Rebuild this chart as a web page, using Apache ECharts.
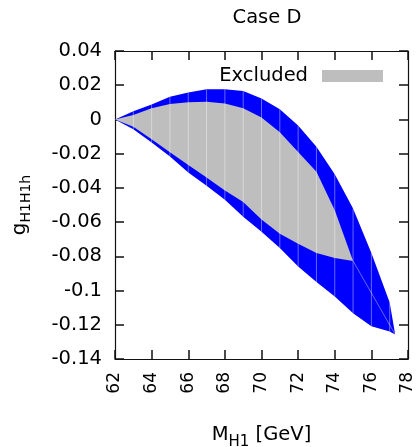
<!DOCTYPE html>
<html>
<head>
<meta charset="utf-8">
<title>Case D</title>
<script src="https://cdn.jsdelivr.net/npm/echarts@6/dist/echarts.min.js"></script>
<style>
html, body { margin:0; height:100%; background:#fff; }
</style>
</head>
<body>
<div id="main" style="width:418px;height:447px;"></div>
<script>
// allowed region (blue) : upper / lower edge per M_H1
var blueX     = [62, 63, 64, 65, 66, 67, 68, 69, 70, 71, 72, 73, 74, 75, 76, 77, 77.3];
var blueUpper = [0, 0.0048, 0.0088, 0.0132, 0.0158, 0.0176, 0.0177, 0.0166, 0.0122, 0.006, -0.0035, -0.016, -0.032, -0.052, -0.078, -0.107, -0.1257];
var blueLower = [0, -0.0057, -0.0135, -0.0217, -0.031, -0.0388, -0.047, -0.0568, -0.0656, -0.0752, -0.086, -0.095, -0.1035, -0.1133, -0.1208, -0.124, -0.1257];

// excluded region (gray)
var grayX     = [62, 63, 64, 65, 66, 67, 68, 69, 70, 71, 72, 73, 74, 75];
var grayUpper = [0, 0.0026, 0.0065, 0.009, 0.0101, 0.0103, 0.0093, 0.0065, 0.0012, -0.0075, -0.019, -0.0305, -0.053, -0.0827];
var grayLower = [0, -0.0042, -0.0116, -0.0192, -0.0266, -0.034, -0.0415, -0.0483, -0.0585, -0.0668, -0.0727, -0.078, -0.081, -0.0827];

var FONT = 'DejaVu Sans';

var myChart = echarts.init(document.getElementById('main'));

function polygonRender(xs, upper, lower, color) {
    return function (params, api) {
        var pts = [];
        for (var i = 0; i < xs.length; i++) pts.push(api.coord([xs[i], upper[i]]));
        for (var j = xs.length - 1; j >= 0; j--) pts.push(api.coord([xs[j], lower[j]]));
        return { type: 'polygon', shape: { points: pts }, style: { fill: color } };
    };
}

// faint column seams, one per sampled mass
var seams = blueX.map(function (x, i) { return [x, blueUpper[i], blueLower[i]]; });
var diag = [[grayX[grayX.length - 1], grayLower[grayLower.length - 1]],
            [blueX[blueX.length - 1], blueLower[blueLower.length - 1]]];

var tickStyle = { show: true, inside: true, length: 9, lineStyle: { color: '#111', width: 1.5 } };
var lineStyle = { show: true, onZero: false, lineStyle: { color: '#111', width: 1.2 } };

var option = {
    animation: false,
    title: {
        text: 'Case D',
        left: 262, top: 3, textAlign: 'center',
        textStyle: { fontFamily: FONT, fontSize: 19.5, fontWeight: 'normal', color: '#000' }
    },
    legend: {
        data: ['Excluded'],
        right: 30, top: 61,
        align: 'right',
        icon: 'rect',
        itemWidth: 61, itemHeight: 12,
        selectedMode: false,
        textStyle: { fontFamily: FONT, fontSize: 19.5, color: '#000', padding: [0, 9, 0, 0] }
    },
    grid: {
        left: 115, right: 10, top: 51, bottom: 88,
        containLabel: false, outerBoundsMode: 'none'
    },
    xAxis: [{
        type: 'value', min: 62, max: 78, interval: 2,
        position: 'bottom',
        axisLine: lineStyle, axisTick: tickStyle, splitLine: { show: false },
        axisLabel: { rotate: 90, margin: 13, fontFamily: FONT, fontSize: 17, color: '#000' },
        name: '{m|M}{s|H1}{m| [GeV]}',
        nameLocation: 'middle', nameGap: 66,
        nameTextStyle: {
            fontFamily: FONT, color: '#000',
            rich: {
                m: { fontFamily: FONT, fontSize: 19.5, lineHeight: 20, verticalAlign: 'top', color: '#000' },
                s: { fontFamily: FONT, fontSize: 15, lineHeight: 15, verticalAlign: 'top', padding: [10, 0, 0, 0], color: '#000' }
            }
        }
    }, {
        type: 'value', min: 62, max: 78, interval: 2,
        position: 'top',
        axisLine: lineStyle, axisTick: tickStyle, splitLine: { show: false },
        axisLabel: { show: false }
    }],
    yAxis: [{
        type: 'value', min: -0.14, max: 0.04, interval: 0.02,
        position: 'left',
        axisLine: lineStyle, axisTick: tickStyle, splitLine: { show: false },
        axisLabel: {
            margin: 13, fontFamily: FONT, fontSize: 19.5, color: '#000',
            formatter: function (v) { return String(Number(v.toFixed(2))); }
        },
        name: '{m|g}{s|H1H1h}',
        nameLocation: 'middle', nameGap: 85, nameRotate: 90,
        nameTextStyle: {
            fontFamily: FONT, color: '#000',
            rich: {
                m: { fontFamily: FONT, fontSize: 20, lineHeight: 20, verticalAlign: 'top', color: '#000' },
                s: { fontFamily: FONT, fontSize: 14, lineHeight: 14, verticalAlign: 'top', padding: [9, 0, 0, 0], color: '#000' }
            }
        }
    }, {
        type: 'value', min: -0.14, max: 0.04, interval: 0.02,
        position: 'right',
        axisLine: lineStyle, axisTick: tickStyle, splitLine: { show: false },
        axisLabel: { show: false }
    }],
    series: [{
        name: 'Allowed',
        type: 'custom',
        clip: true,
        renderItem: polygonRender(blueX, blueUpper, blueLower, '#0000ff'),
        data: [[blueX[0], blueUpper[0]]],
        itemStyle: { color: '#0000ff' },
        z: 1
    }, {
        name: 'Excluded',
        type: 'custom',
        clip: true,
        renderItem: polygonRender(grayX, grayUpper, grayLower, '#bebebe'),
        data: [[grayX[0], grayUpper[0]]],
        itemStyle: { color: '#bebebe' },
        z: 2
    }, {
        type: 'custom',
        clip: true,
        renderItem: function (params, api) {
            var p1 = api.coord([api.value(0), api.value(1)]);
            var p2 = api.coord([api.value(0), api.value(2)]);
            return {
                type: 'line',
                shape: { x1: p1[0], y1: p1[1], x2: p2[0], y2: p2[1] },
                style: { stroke: 'rgba(255,255,255,0.4)', lineWidth: 1 }
            };
        },
        data: seams,
        z: 3
    }, {
        type: 'line',
        data: diag,
        symbol: 'none',
        lineStyle: { color: 'rgba(255,255,255,0.4)', width: 1 },
        z: 3
    }]
};

myChart.setOption(option);
</script>
</body>
</html>
